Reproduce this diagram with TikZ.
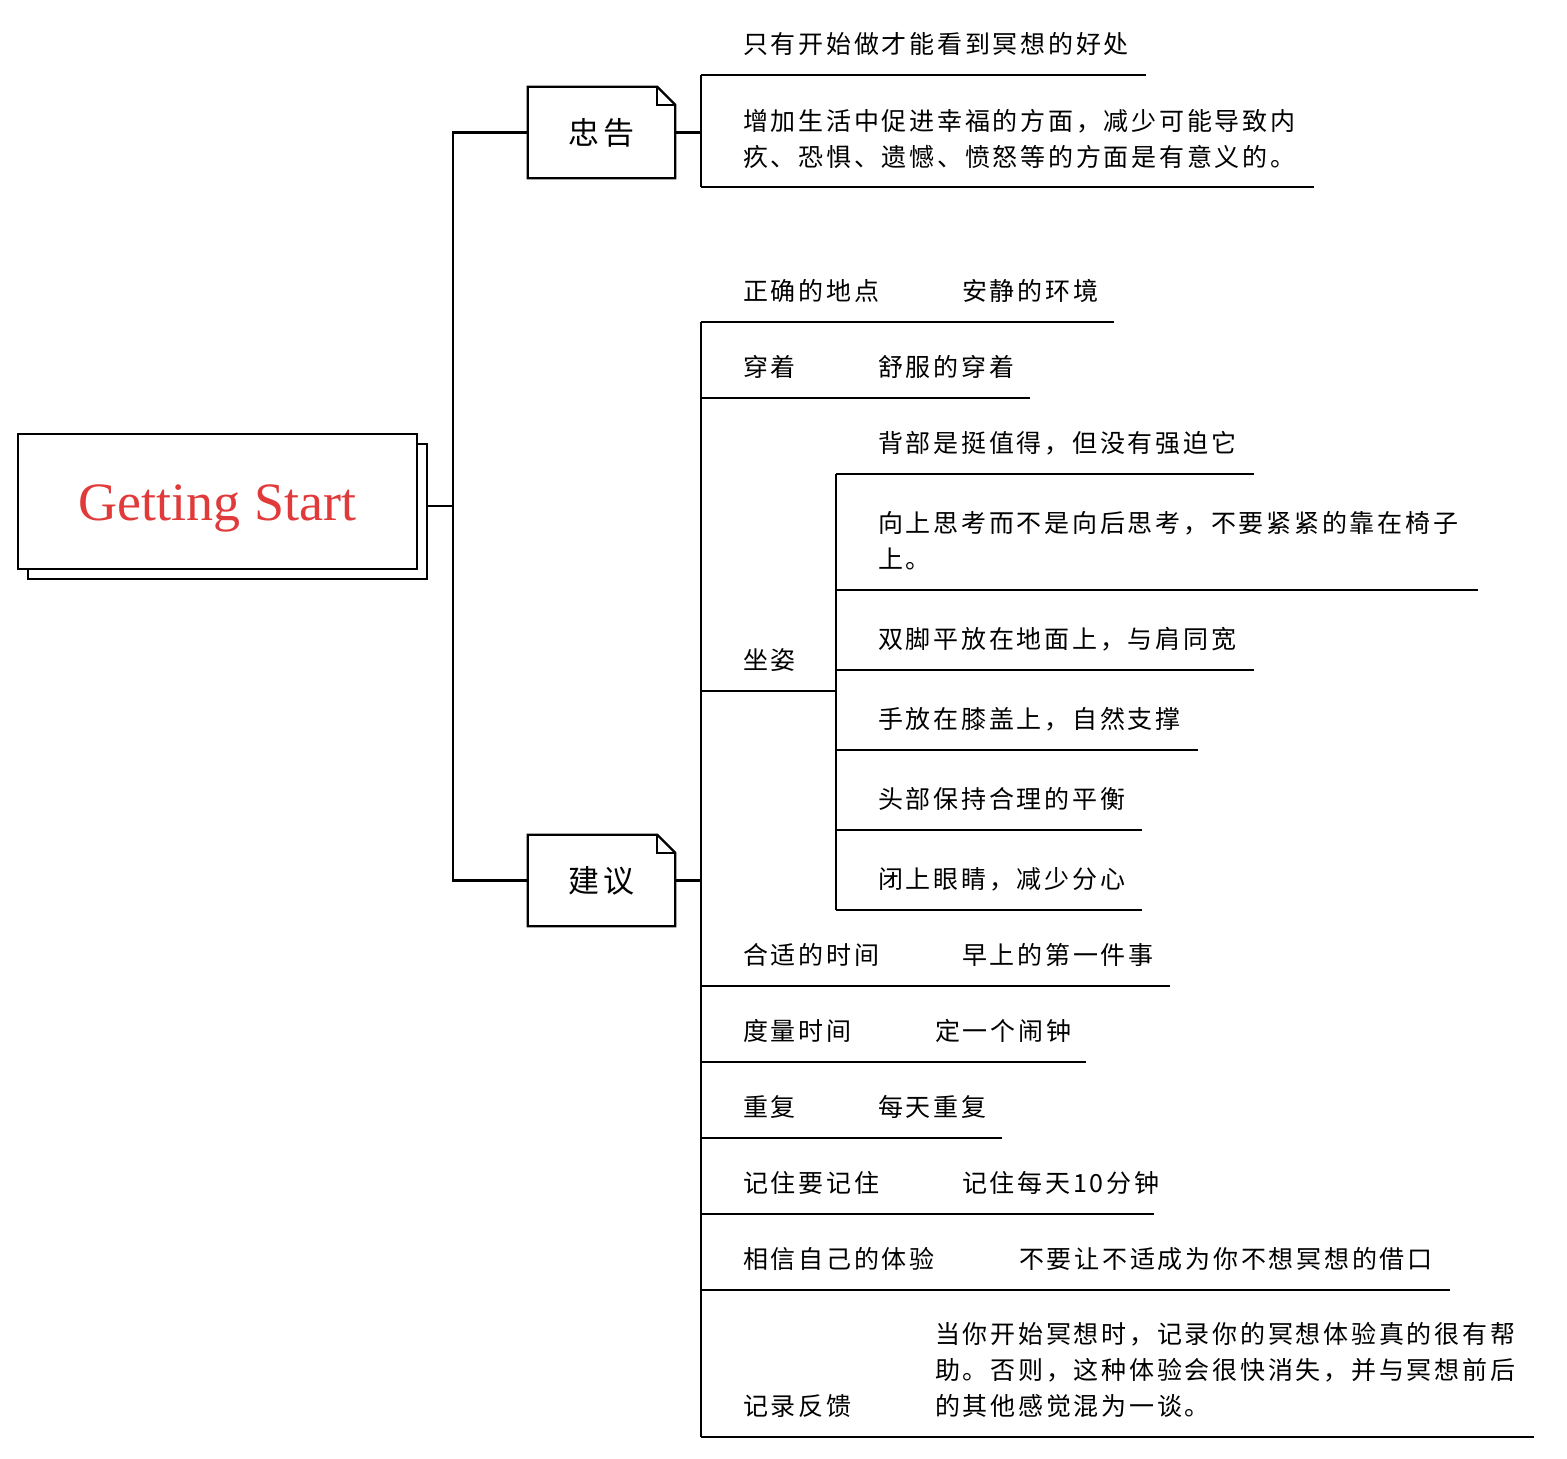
\documentclass[tikz,border=0pt]{standalone}
\usepackage{fontspec}
\setmainfont{Liberation Serif}
\newfontfamily\cjk[LetterSpace=11]{Noto Sans CJK SC}
\usetikzlibrary{shadows}
\definecolor{rootred}{RGB}{224,58,58}
\tikzset{
  lin/.style={line width=2.3pt, black},
  txt/.style={font=\cjk\fontsize{25}{36}\selectfont, inner sep=0pt, anchor=base west},
  mainnode/.style={draw, line width=2.3pt, fill=white, minimum width=399pt, minimum height=135pt,
    inner sep=0pt, font=\fontsize{54}{60}\selectfont, text=rootred,
    copy shadow={shadow xshift=10pt, shadow yshift=-10pt, draw=black, fill=white, line width=2.3pt}},
  notenode/.style={minimum width=147pt, minimum height=91pt, inner sep=0pt,
    font=\cjk\fontsize{31}{36}\selectfont}
}
\newcommand\foldbox[1]{%
  \draw[lin] (#1.south west) -- (#1.north west) -- ([xshift=-18pt]#1.north east)
    -- ([yshift=-18pt]#1.north east) -- (#1.south east) -- cycle;
  \draw[lin] ([xshift=-18pt]#1.north east) |- ([yshift=-18pt]#1.north east);}
\newcommand\uline[4]{%
  \coordinate (#1l) at (#2,#3); \coordinate (#1r) at (#4,#3);
  \draw[lin] (#1l) -- (#1r);}
\begin{document}
\begin{tikzpicture}[x=1pt,y=-1pt]
\useasboundingbox (0,0) rectangle (1567,1459);

% root
\node[mainnode] (root) at (217.5,501.5) {\raisebox{-18.5pt}[0pt][0pt]{Getting Start}};

% main branches
\node[notenode] (zg) at (601.5,132.5) {忠告};
\foldbox{zg}
\node[notenode] (jy) at (601.5,880.5) {建议};
\foldbox{jy}

\coordinate (trunk) at (453,506);
\draw[lin] ([xshift=10pt,yshift=-4.5pt]root.east) -- (trunk);
\draw[lin] (zg.west) -| (trunk) |- (jy.west);

% ---- 忠告 children
\uline{a1}{701}{75}{1146}
\uline{a2}{701}{187}{1314}
\draw[lin] (a1l) -- (a2l);
\draw[lin] (zg.east) -- (zg.east -| a1l);
\node[txt] (a1) at (743,53) {只有开始做才能看到冥想的好处};
\node[txt] (a2a) at (743,130) {增加生活中促进幸福的方面，减少可能导致内};
\node[txt] (a2b) at (743,166) {疚、恐惧、遗憾、愤怒等的方面是有意义的。};

% ---- 建议 children
\uline{b1}{701}{322}{1114}
\uline{b2}{701}{398}{1030}
\uline{b3}{701}{691}{836}
\uline{b4}{701}{986}{1170}
\uline{b5}{701}{1062}{1086}
\uline{b6}{701}{1138}{1002}
\uline{b7}{701}{1214}{1154}
\uline{b8}{701}{1290}{1450}
\uline{b9}{701}{1437}{1534}
\draw[lin] (b1l) -- (b9l);
\draw[lin] (jy.east) -- (jy.east -| b1l);

\node[txt] (b1a) at (743,300) {正确的地点};
\node[txt] (b1b) at (962,300) {安静的环境};
\node[txt] (b2a) at (743,376) {穿着};
\node[txt] (b2b) at (878,376) {舒服的穿着};
\node[txt] (b3a) at (743,669) {坐姿};
\node[txt] (b4a) at (743,964) {合适的时间};
\node[txt] (b4b) at (962,964) {早上的第一件事};
\node[txt] (b5a) at (743,1040) {度量时间};
\node[txt] (b5b) at (935,1040) {定一个闹钟};
\node[txt] (b6a) at (743,1116) {重复};
\node[txt] (b6b) at (878,1116) {每天重复};
\node[txt] (b7a) at (743,1192) {记住要记住};
\node[txt] (b7b) at (962,1192) {记住每天10分钟};
\node[txt] (b8a) at (743,1268) {相信自己的体验};
\node[txt] (b8b) at (1019,1268) {不要让不适成为你不想冥想的借口};
\node[txt] (b9a) at (743,1415) {记录反馈};
\node[txt] (b9b) at (935,1343) {当你开始冥想时，记录你的冥想体验真的很有帮};
\node[txt] (b9c) at (935,1379) {助。否则，这种体验会很快消失，并与冥想前后};
\node[txt] (b9d) at (935,1415) {的其他感觉混为一谈。};

% ---- 坐姿 children
\uline{c1}{836}{474}{1254}
\uline{c2}{836}{590}{1478}
\uline{c3}{836}{670}{1254}
\uline{c4}{836}{750}{1198}
\uline{c5}{836}{830}{1142}
\uline{c6}{836}{910}{1142}
\draw[lin] (c1l) -- (c6l);

\node[txt] (c1) at (878,452) {背部是挺值得，但没有强迫它};
\node[txt] (c2a) at (878,532) {向上思考而不是向后思考，不要紧紧的靠在椅子};
\node[txt] (c2b) at (878,568) {上。};
\node[txt] (c3) at (878,648) {双脚平放在地面上，与肩同宽};
\node[txt] (c4) at (878,728) {手放在膝盖上，自然支撑};
\node[txt] (c5) at (878,808) {头部保持合理的平衡};
\node[txt] (c6) at (878,888) {闭上眼睛，减少分心};
\end{tikzpicture}
\end{document}
